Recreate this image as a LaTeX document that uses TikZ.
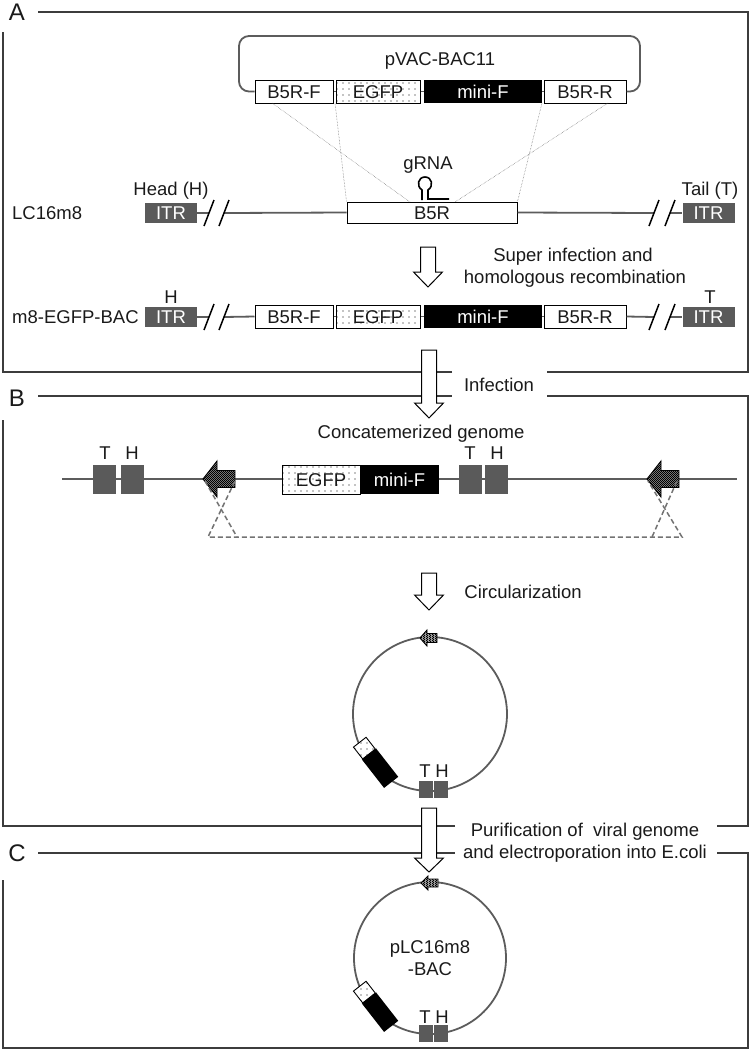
\documentclass[tikz,border=0pt]{standalone}
\usepackage{fontspec}
\setmainfont{Liberation Sans}
\usetikzlibrary{patterns}
\pgfdeclarepatternformonly{sparsedots}{\pgfqpoint{-1pt}{-1pt}}{\pgfqpoint{7pt}{7pt}}{\pgfqpoint{6pt}{6pt}}{\pgfpathcircle{\pgfqpoint{1pt}{1pt}}{0.7pt}\pgfusepath{fill}}
\pgfdeclarepatternformonly{checker}{\pgfqpoint{0pt}{0pt}}{\pgfqpoint{2.4pt}{2.4pt}}{\pgfqpoint{2.4pt}{2.4pt}}{\pgfpathrectangle{\pgfqpoint{0pt}{0pt}}{\pgfqpoint{1.3pt}{1.3pt}}\pgfpathrectangle{\pgfqpoint{1.2pt}{1.2pt}}{\pgfqpoint{1.2pt}{1.2pt}}\pgfusepath{fill}}
\definecolor{itrgray}{HTML}{5A5A5A}
\definecolor{framec}{HTML}{3C3C3C}
\definecolor{dnac}{HTML}{5C5C5C}
\definecolor{txt}{HTML}{1A1A1A}
\newcommand{\hollowdn}[4]{% x, ytop, ytip, head length
  \draw[harrow] (#1-7.5,#2) -- (#1+7.5,#2) -- (#1+7.5,#3-#4) -- (#1+14.5,#3-#4) -- (#1,#3) -- (#1-14.5,#3-#4) -- (#1-7.5,#3-#4) -- cycle;}
\newcommand{\hatchleft}[6]{% tipx, y, headlen, shaftlen, headhalf, shafthalf
  \path[hatcharrow] (#1,#2) -- (#1+#3,#2-#5) -- (#1+#3,#2-#6) -- (#1+#3+#4,#2-#6) -- (#1+#3+#4,#2+#6) -- (#1+#3,#2+#6) -- (#1+#3,#2+#5) -- cycle;}
\newcommand{\bacinsert}[2]{% circle center x, y : rotated EGFP / mini-F block
  \begin{scope}[shift={(#1-61,#2+40)}, rotate=-52]
    \fill[white] (-15,-8) rectangle (0,8);
    \fill[pattern=sparsedots, pattern color=black] (-15,-8) rectangle (0,8);
    \draw[line width=0.9pt] (-15,-8) rectangle (0,8);
    \fill[black] (0,-9) rectangle (36,9);
  \end{scope}}
\begin{document}
\begin{tikzpicture}[x=1pt,y=-1pt,
  every node/.style={font=\fontsize{18.5}{22}\selectfont, text=txt, inner sep=0pt},
  lbl/.style={text height=13.3pt, text depth=0pt},
  plbl/.style={font=\fontsize{24}{26}\selectfont, text height=17pt, text depth=0pt},
  frame/.style={draw=framec, line width=1.8pt},
  dna/.style={draw=dnac, line width=1.8pt},
  itr/.style={fill=itrgray, text=white, minimum width=52pt, minimum height=20pt, text height=13.3pt, text depth=0pt},
  wbox/.style={draw=black, line width=1pt, fill=white, minimum height=23pt, text height=13.3pt, text depth=0pt},
  egfpbox/.style={wbox, preaction={fill=white}, postaction={pattern=sparsedots, pattern color=black}},
  minibox/.style={fill=black, text=white, minimum height=23pt, text height=13.3pt, text depth=0pt},
  gbox/.style={fill=itrgray, minimum width=23pt, minimum height=29pt},
  cbox/.style={fill=itrgray, minimum width=14pt, minimum height=17pt},
  thin/.style={draw=black!60, line width=0.5pt, densely dotted},
  xdash/.style={draw=black!55, line width=1.5pt, dash pattern=on 5pt off 3pt},
  harrow/.style={draw=black, line width=1pt, fill=white},
  hatcharrow/.style={draw=black, line width=0.9pt, fill=black!35, postaction={pattern=checker, pattern color=black}},
  slash/.style={draw=black, line width=1.5pt}
]
\useasboundingbox (0,0) rectangle (751,1050);

% ---------- frames ----------
\node[plbl] (lA) at (17,12) {A};
\node[plbl] (lB) at (17,398) {B};
\node[plbl] (lC) at (17,853) {C};
\draw[frame] (38,12) -- (748,12) -- (748,372) -- (547,372);
\draw[frame] (452,372) -- (3,372) -- (3,32);
\draw[frame] (38,396) -- (452,396);
\draw[frame] (547,396) -- (748,396) -- (748,826) -- (717,826);
\draw[frame] (455,826) -- (3,826) -- (3,420);
\draw[frame] (38,853) -- (455,853);
\draw[frame] (717,853) -- (748,853) -- (748,1048) -- (3,1048) -- (3,880);

% ---------- panel A : pVAC-BAC11 ----------
\draw[dna] (255,91.5) -- (626,91.5);
\node[wbox, minimum width=78pt] (pF) at (294,91.5) {B5R-F};
\node[egfpbox, minimum width=84pt] (pE) at (378,91.5) {EGFP};
\node[minibox, minimum width=118pt] (pM) at (483,91.5) {mini-F};
\node[wbox, minimum width=82pt] (pR) at (585,91.5) {B5R-R};
\draw[draw=dnac, line width=1.8pt, rounded corners=10pt] (pF.west) -- (239,91.5) -- (239,36) -- (640,36) -- (640,91.5) -- (pR.east);
\node[lbl] (pname) at (440,59) {pVAC-BAC11};

% ---------- panel A : LC16m8 ----------
\node[lbl, anchor=west] (lc) at (12,213) {LC16m8};
\node[itr] (itrH1) at (171,213) {ITR};
\node[lbl] (head) at (171,189) {Head (H)};
\node[wbox, minimum width=170pt, minimum height=21pt] (b5r) at (432,212.5) {B5R};
\node[itr] (itrT1) at (708.5,213) {ITR};
\node[lbl] (tail) at (710,189) {Tail (T)};
\coordinate (s1a) at (209,213); \coordinate (s1b) at (224,213);
\coordinate (s2a) at (654,213); \coordinate (s2b) at (670,213);
\draw[dna] (itrH1.east) -- (s1a);
\draw[dna] (s1b) -- (b5r.west);
\draw[dna] (b5r.east) -- (s2a);
\draw[dna] (s2b) -- (itrT1.west);
\draw[slash] (204,226) -- (214,200);
\draw[slash] (219,226) -- (229,200);
\draw[slash] (649,226) -- (659,200);
\draw[slash] (665,226) -- (675,200);
% gRNA
\node[lbl] (grna) at (428,163) {gRNA};
\coordinate (cutL) at (410,202);
\coordinate (cutR) at (455,202);
\draw[black, line width=1.6pt] (422,200) -- (422,190) .. controls (416,186) and (418,177) .. (425,177) .. controls (432,177) and (434,186) .. (428,190) -- (428,199) -- (449,199);
% crossover lines
\draw[thin] (272,103) -- (cutL);
\draw[thin] (335,103) -- (b5r.north west);
\draw[thin] (542,103) -- (b5r.north east);
\draw[thin] (608,103) -- (cutR);

% arrow A
\hollowdn{428}{247}{287}{15}
\node[lbl] (super1) at (573,255) {Super infection and};
\node[lbl] (super2) at (575,277) {homologous recombination};

% ---------- panel A : m8-EGFP-BAC ----------
\node[lbl, anchor=west] (m8) at (12,317) {m8-EGFP-BAC};
\draw[dna] (255,316.5) -- (626,316.5);
\node[itr] (itrH2) at (171,317) {ITR};
\node[lbl] (h2) at (171,297) {H};
\node[wbox, minimum width=78pt] (mF) at (294,316.5) {B5R-F};
\node[egfpbox, minimum width=84pt] (mE) at (378,316.5) {EGFP};
\node[minibox, minimum width=118pt] (mM) at (483,316.5) {mini-F};
\node[wbox, minimum width=82pt] (mR) at (585,316.5) {B5R-R};
\node[itr] (itrT2) at (708.5,317) {ITR};
\node[lbl] (t2) at (710,297) {T};
\coordinate (s3a) at (209,317); \coordinate (s3b) at (224,317);
\coordinate (s4a) at (654,317); \coordinate (s4b) at (670,317);
\draw[dna] (itrH2.east) -- (s3a);
\draw[dna] (s3b) -- (mF.west);
\draw[dna] (mR.east) -- (s4a);
\draw[dna] (s4b) -- (itrT2.west);
\draw[slash] (204,330) -- (214,304);
\draw[slash] (219,330) -- (229,304);
\draw[slash] (649,330) -- (659,304);
\draw[slash] (665,330) -- (675,304);

% Infection
\hollowdn{429}{350}{418}{15}
\node[lbl] (inf) at (499,385) {Infection};

% ---------- panel B ----------
\node[lbl] (concat) at (421,432) {Concatemerized genome};
\coordinate (gL) at (62,479);
\coordinate (gR) at (737,479);
\draw[dna] (gL) -- (gR);
\node[gbox] (bT1) at (104.5,479.5) {};
\node[gbox] (bH1) at (132,479.5) {};
\node[lbl] (lt1) at (105,453) {T};
\node[lbl] (lh1) at (132,453) {H};
\node[egfpbox, minimum width=78pt, minimum height=29pt] (bE) at (321,479.5) {EGFP};
\node[minibox, minimum width=79pt, minimum height=29pt] (bM) at (399.5,479.5) {mini-F};
\node[gbox] (bT2) at (470,479.5) {};
\node[gbox, minimum width=23pt] (bH2) at (496.5,479.5) {};
\node[lbl] (lt2) at (470,453) {T};
\node[lbl] (lh2) at (497,453) {H};
\hatchleft{203}{479}{14}{18}{18}{8.5}
\hatchleft{647}{479}{14}{18}{18}{8.5}
% crossover
\coordinate (x1) at (205,481); \coordinate (x2) at (235,481);
\coordinate (x3) at (208,537); \coordinate (x4) at (237,537);
\coordinate (x5) at (648,481); \coordinate (x6) at (677,481);
\coordinate (x7) at (652,537); \coordinate (x8) at (682,537);
\draw[xdash] (x1) -- (x4);
\draw[xdash] (x2) -- (x3) -- (x8) -- (x5);
\draw[xdash] (x6) -- (x7);

\hollowdn{429}{573}{610}{15}
\node[lbl] (circ) at (523,592) {Circularization};

% circle B
\node[draw=dnac, line width=1.8pt, circle, minimum size=154pt] (cB) at (430,714) {};
\bacinsert{430}{714}
\node[cbox] (cbT) at (426,789) {};
\node[cbox] (cbH) at (441,789) {};
\node[lbl] (cbt) at (425,771) {T};
\node[lbl] (cbh) at (442,771) {H};
\hatchleft{420}{638}{7}{10}{8}{4.5}

% Purification
\hollowdn{429}{808}{872}{14}
\node[lbl] (purif1) at (585,830) {Purification of~~viral genome};
\node[lbl] (purif2) at (585,852) {and electroporation into E.coli};

% ---------- panel C ----------
\node[draw=dnac, line width=1.8pt, circle, minimum size=152pt] (cC) at (430,958) {};
\node[lbl] (plc1) at (430,947) {pLC16m8};
\node[lbl] (plc2) at (430,969) {-BAC};
\bacinsert{430}{958}
\node[cbox] (ccT) at (426,1033) {};
\node[cbox] (ccH) at (441,1033) {};
\node[lbl] (cct) at (425,1017) {T};
\node[lbl] (cch) at (442,1017) {H};
\hatchleft{421}{883}{7}{10}{7}{4}
\end{tikzpicture}
\end{document}
